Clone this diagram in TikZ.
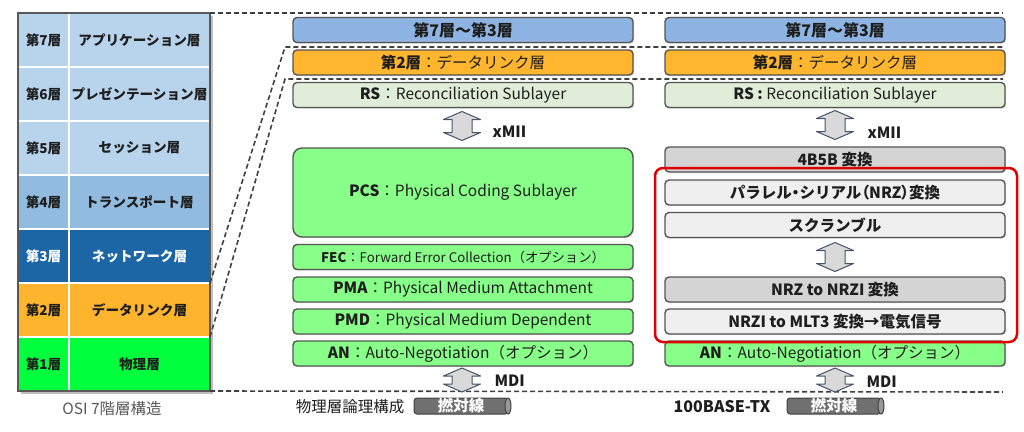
\documentclass[tikz,border=0pt]{standalone}
\usepackage{fontspec}
\setmainfont{Noto Sans CJK JP}
\usetikzlibrary{shadows}
\newcommand\pk[1]{{\addfontfeature{RawFeature=+palt}#1}}
\definecolor{osiA}{RGB}{183,212,236}
\definecolor{osiB}{RGB}{145,187,223}
\definecolor{osiC}{RGB}{28,102,166}
\definecolor{osiD}{RGB}{255,180,46}
\definecolor{osiE}{RGB}{0,255,60}
\definecolor{upper}{RGB}{141,180,226}
\definecolor{dlink}{RGB}{255,181,46}
\definecolor{rsgrn}{RGB}{224,237,216}
\definecolor{phy}{RGB}{136,255,136}
\definecolor{midgray}{RGB}{212,212,212}
\definecolor{ltgray}{RGB}{239,239,239}
\definecolor{edge}{RGB}{85,85,85}
\definecolor{ink}{RGB}{30,30,30}
\definecolor{arrfill}{RGB}{217,217,217}
\definecolor{arredge}{RGB}{68,84,106}
\definecolor{framered}{RGB}{222,0,0}
\definecolor{cable}{RGB}{112,112,112}
\tikzset{
  layer/.style={draw=edge, line width=1.4pt, rounded corners=4pt, minimum width=340pt,
    minimum height=25pt, inner sep=0pt, outer sep=0pt, text=ink,
    font=\fontsize{15.5}{17}\selectfont,
    drop shadow={shadow xshift=1.2pt, shadow yshift=-1.2pt, opacity=.3}},
  boldlayer/.style={layer, font=\bfseries\fontsize{15.5}{17}\selectfont},
  osicell/.style={draw=white, line width=1.5pt, inner sep=0pt, outer sep=0pt,
    minimum height=54pt, font=\bfseries\fontsize{13.6}{15}\selectfont},
  link/.style={draw=black!75, line width=1.6pt, dash pattern=on 5pt off 3pt},
  dblarrow/.pic={
    \path[fill=arrfill, draw=arredge, line width=1pt, line join=round]
      (0,-#1) -- (18.5,-#1+8) -- (10,-#1+8) -- (10,#1-8) -- (18.5,#1-8) -- (0,#1)
      -- (-18.5,#1-8) -- (-10,#1-8) -- (-10,-#1+8) -- (-18.5,-#1+8) -- cycle;},
  lbl/.style={font=\bfseries\fontsize{15.5}{17}\selectfont, text=ink, anchor=west},
  captxt/.style={font=\fontsize{15.5}{17}\selectfont, text=ink},
  cab/.style={fill=cable, draw=black!75, line width=1pt, rounded corners=3pt,
    minimum width=94pt, minimum height=16pt, inner sep=0pt, outer sep=0pt,
    text=white, font=\bfseries\fontsize{15.5}{17}\selectfont},
  cabend/.style={fill=black!40, draw=black!75, line width=1pt}
}
\begin{document}
\begin{tikzpicture}[x=1pt,y=-1pt]
\useasboundingbox (0,0) rectangle (1024,431);

% OSI table
\fill[black!25] (21,16) rectangle (213,394);
\foreach \n/\name/\col/\tc/\y in {7/アプリケーション層/osiA/ink/40,
    6/プレゼンテーション層/osiA/ink/94, 5/セッション層/osiA/ink/148,
    4/トランスポート層/osiB/ink/202, 3/ネットワーク層/osiC/white/256,
    2/データリンク層/osiD/ink/310, 1/物理層/osiE/ink/364}{
  \node[osicell, fill=\col, text=\tc, minimum width=51pt] (num\n) at (43.5,\y) {第\n 層};
  \node[osicell, fill=\col, text=\tc, minimum width=141pt] (lay\n) at (139.5,\y) {\name};
}
\draw[black!65, line width=2.5pt] (num7.north west) rectangle (lay1.south east);
\node[captxt, text=black!65] (osiCap) at (112,409) {OSI 7階層構造};

% dashed guide lines
\coordinate (topEnd) at (1003,13);
\coordinate (botEnd) at (1003,392);
\coordinate (dlBend) at (285,47);
\coordinate (dlEnd) at (1003,47);
\coordinate (rsBend) at (285,79);
\coordinate (rsEnd) at (1003,79);
\draw[link] (lay7.north east) -- (topEnd);
\draw[link] (lay1.south east) -- (botEnd);
\draw[link] (lay2.north east) -- (dlBend) -- (dlEnd);
\draw[link] (lay2.south east) -- (rsBend) -- (rsEnd);

% physical layer, logical view
\node[boldlayer, fill=upper, font=\bfseries\fontsize{16}{18}\selectfont] (upM) at (463,30) {第7層～第3層};
\node[layer, fill=dlink] (dlM) at (463,62.5) {\textbf{第2層}：データリンク層};
\node[layer, fill=rsgrn] (rsM) at (463,95) {\textbf{RS}：Reconciliation Sublayer};
\pic (xmM) at (462,126) {dblarrow=14.5};
\node[lbl] (xmLblM) at (489,132) {xMII};
\node[layer, fill=phy, minimum height=89pt, rounded corners=9pt] (pcs) at (463,192.5) {\textbf{PCS}：Physical Coding Sublayer};
\node[layer, fill=phy, font=\fontsize{13.3}{15}\selectfont] (fec) at (463,257) {\textbf{FEC}：Forward Error Collection（オプション）};
\node[layer, fill=phy] (pma) at (463,289.5) {\textbf{PMA}：Physical Medium Attachment};
\node[layer, fill=phy] (pmd) at (463,321.5) {\textbf{PMD}：Physical Medium Dependent};
\node[layer, fill=phy] (anM) at (463,353.5) {\textbf{AN}：Auto-Negotiation（オプション）};
\pic (mdiM) at (462,380) {dblarrow=12};
\node[lbl] (mdiLblM) at (491,381) {MDI};
\node[captxt] (phyCap) at (350,407) {物理層論理構成};
\node[cab] (cabM) at (461,406) {撚対線};
\draw[cabend] (cabM.east) ellipse (3 and 8);

% 100BASE-TX
\node[boldlayer, fill=upper, font=\bfseries\fontsize{16}{18}\selectfont] (upR) at (835,30) {第7層～第3層};
\node[layer, fill=dlink] (dlR) at (835,62.5) {\textbf{第2層}：データリンク層};
\node[layer, fill=rsgrn] (rsR) at (835,95) {\textbf{RS :} Reconciliation Sublayer};
\pic (xmR) at (835,125) {dblarrow=14.5};
\node[lbl] (xmLblR) at (864,133) {xMII};
\node[boldlayer, fill=midgray] (enc) at (835,159.5) {4B5B 変換};
\node[boldlayer, fill=ltgray] (para) at (835,192.5) {パラレル\pk{・}シリアル\pk{（}NRZ\pk{）}変換};
\node[boldlayer, fill=ltgray] (scr) at (835,225) {スクランブル};
\pic (scrArr) at (835,257) {dblarrow=14.5};
\node[boldlayer, fill=midgray] (nrzi) at (835,289.5) {NRZ to NRZI 変換};
\node[boldlayer, fill=ltgray] (mlt) at (835,321.5) {NRZI to MLT3 変換→電気信号};
\node[layer, fill=phy] (anR) at (835,353.5) {\textbf{AN}：Auto-Negotiation（オプション）};
\draw[framered, line width=2.5pt, rounded corners=8pt] (655,168) rectangle (1017,342);
\pic (mdiR) at (835,380) {dblarrow=12};
\node[lbl] (mdiLblR) at (863,382) {MDI};
\node[captxt, font=\bfseries\fontsize{16}{18}\selectfont] (txCap) at (722,407) {100BASE-TX};
\node[cab] (cabR) at (834,406) {撚対線};
\draw[cabend] (cabR.east) ellipse (3 and 8);
\end{tikzpicture}
\end{document}
